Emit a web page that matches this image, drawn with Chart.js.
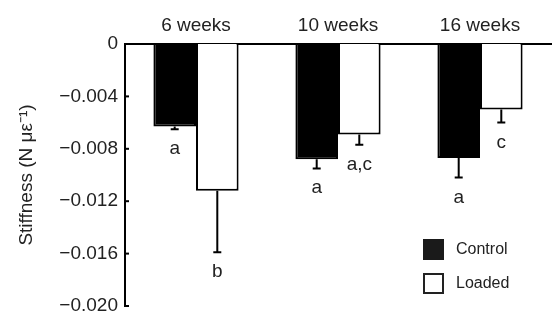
<!DOCTYPE html>
<html>
<head>
<meta charset="utf-8">
<script src="https://cdn.jsdelivr.net/npm/chart.js@4/dist/chart.umd.min.js"></script>
<style>
  html, body { margin: 0; padding: 0; background: #fff; }
  #wrap { width: 552px; height: 314px; }
</style>
</head>
<body>
<div id="wrap"><canvas id="chartStiffness"></canvas></div>
<script>
// values
const categories = ["6 weeks", "10 weeks", "16 weeks"];
const controlMean = [-0.0063, -0.0088, -0.0087];
const controlErr = [0.0002, 0.0007, 0.0015];
const loadedMean = [-0.0112, -0.0069, -0.0050];
const loadedErr = [0.0047, 0.0008, 0.0010];
const controlLetters = ["a", "a", "a"];
const loadedLetters = ["b", "a,c", "c"];
const yTicks = [0, -0.004, -0.008, -0.012, -0.016, -0.020];

const FONT = "'Liberation Sans', Arial, sans-serif";
const TXT = "#222";

// error bars, letters, inward ticks and the legend box
const extras = {
  id: "extras",
  afterDatasetsDraw(chart) {
    const ctx = chart.ctx;
    const y = chart.scales.y;
    const errs = [controlErr, loadedErr];
    const letters = [controlLetters, loadedLetters];
    ctx.save();
    chart.data.datasets.forEach((ds, di) => {
      const meta = chart.getDatasetMeta(di);
      meta.data.forEach((bar, i) => {
        const x = bar.x;
        const endVal = ds.data[i] - errs[di][i];
        const y0 = y.getPixelForValue(ds.data[i]);
        const y1 = y.getPixelForValue(endVal);
        ctx.strokeStyle = "#000";
        ctx.lineWidth = 2;
        ctx.beginPath();
        ctx.moveTo(x, y0);
        ctx.lineTo(x, y1);
        ctx.moveTo(x - 4, y1);
        ctx.lineTo(x + 4, y1);
        ctx.stroke();
        ctx.fillStyle = TXT;
        ctx.font = "19px " + FONT;
        ctx.textAlign = "center";
        ctx.textBaseline = "alphabetic";
        ctx.fillText(letters[di][i], x, y1 + 25);
      });
    });
    // inward tick marks
    const left = chart.chartArea.left;
    ctx.strokeStyle = "#000";
    ctx.lineWidth = 2;
    yTicks.forEach(v => {
      const py = y.getPixelForValue(v);
      ctx.beginPath();
      ctx.moveTo(left, py);
      ctx.lineTo(left + 4, py);
      ctx.stroke();
    });
    // legend
    const items = [
      { label: "Control", fill: "#1a1a1a", stroke: "#1a1a1a" },
      { label: "Loaded", fill: "#fff", stroke: "#222" }
    ];
    items.forEach((it, k) => {
      const bx = 424, by = 240 + k * 34;
      ctx.fillStyle = it.fill;
      ctx.fillRect(bx, by, 19, 19);
      ctx.strokeStyle = it.stroke;
      ctx.lineWidth = 2;
      ctx.strokeRect(bx, by, 19, 19);
      ctx.fillStyle = TXT;
      ctx.font = "16px " + FONT;
      ctx.textAlign = "left";
      ctx.textBaseline = "middle";
      ctx.fillText(it.label, 456, by + 10);
    });
    ctx.restore();
  }
};

document.addEventListener("DOMContentLoaded", () => {
  const el = document.getElementById("chartStiffness");
  new Chart(el, {
    type: "bar",
    data: {
      labels: categories,
      datasets: [
        {
          label: "Control",
          data: controlMean,
          backgroundColor: "#000",
          borderColor: "#000",
          borderWidth: 2
        },
        {
          label: "Loaded",
          data: loadedMean,
          backgroundColor: "#fff",
          borderColor: "#000",
          borderWidth: 2
        }
      ]
    },
    options: {
      responsive: true,
      maintainAspectRatio: false,
      animation: false,
      layout: { padding: { top: 0, right: 1, bottom: 8, left: 0 } },
      datasets: { bar: { categoryPercentage: 0.6, barPercentage: 1.0 } },
      plugins: {
        legend: { display: false },
        tooltip: { enabled: false }
      },
      scales: {
        x: {
          position: "top",
          grid: { display: false, drawTicks: false },
          border: { display: true, color: "#000", width: 2 },
          ticks: { color: TXT, font: { family: FONT, size: 19 }, padding: 7 },
          afterFit(s) { s.height = 44; }
        },
        y: {
          min: -0.02,
          max: 0,
          afterBuildTicks(s) { s.ticks = yTicks.map(v => ({ value: v })); },
          grid: { display: false, drawTicks: false },
          border: { display: true, color: "#000", width: 2 },
          ticks: {
            color: TXT,
            font: { family: FONT, size: 19 },
            padding: 7,
            callback: v => v === 0 ? "0" : "\u2212" + Math.abs(v).toFixed(3)
          },
          title: {
            display: true,
            text: "Stiffness (N \u03bc\u03b5\u207b\u00b9)",
            color: TXT,
            font: { family: FONT, size: 19 },
            padding: { top: 15, bottom: 0 }
          },
          afterFit(s) {
            s.width = 125;
            s.paddingTop = 0;
            s.paddingBottom = 0;
          }
        }
      }
    },
    plugins: [extras]
  });
});
</script>
</body>
</html>
